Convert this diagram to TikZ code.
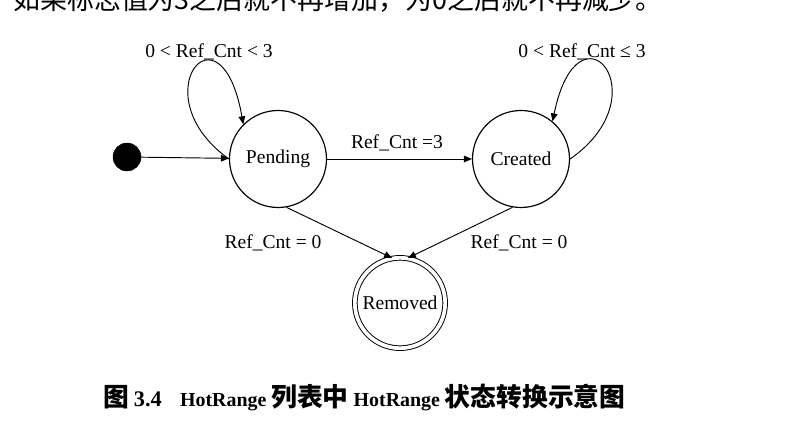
\documentclass[tikz,border=0pt]{standalone}
\usepackage{fontspec}
\setmainfont{Liberation Serif}
\newfontfamily\cjk{Noto Sans CJK SC}
\usetikzlibrary{arrows.meta, positioning}
\newcommand\labelfont{\fontsize{16.7}{20}\selectfont}
\newcommand\capcjk{\cjk\bfseries\fontsize{22}{24}\selectfont}

\begin{document}
\begin{tikzpicture}[x=0.3mm, y=-0.3mm,
    init/.style={circle, draw, fill=black, minimum size=8.4mm, inner sep=0pt},
    state/.style={circle, draw, line width=1pt, minimum size=29.1mm, inner sep=0pt, font=\labelfont},
    final/.style={state, double, double distance=1.1mm, line width=0.8pt, minimum size=27.1mm},
    trans/.style={-{Triangle[length=2.4mm, width=2mm]}, line width=0.8pt},
    lbl/.style={inner sep=0pt, font=\labelfont}
]
\useasboundingbox (0,0) rectangle (803,445);

% cut-off line of the page text above the figure
\begin{scope}
\clip (0,0) rectangle (803,445);
\node[anchor=base west, inner sep=0pt, font=\cjk\fontsize{23}{23}\selectfont] (topline) at (13,10) {如果标志值为3之后就不再增加，为0之后就不再减少。};
\end{scope}

\node[init] (start) at (127,157) {};
\node[state] (pend) at (278,159) {Pending};
\node[state] (crea) at (521,159) {Created};
\node[final] (rem) at (400,303) {Removed};

\node[lbl] (lpend) at (209,52) {0 < Ref\_Cnt < 3};
\node[lbl] (lcrea) at (582,52) {0 < Ref\_Cnt ≤ 3};
\node[lbl] (lmid) at (397,143) {Ref\_Cnt =3};
\node[lbl] (lrem1) at (273,243) {Ref\_Cnt = 0};
\node[lbl] (lrem2) at (519,243) {Ref\_Cnt = 0};

\draw[trans] (start) -- (pend);
\draw[trans] (pend.west) .. controls +(-89.5,-64) and +(-22.6,-128) .. (pend.135);
\draw[trans] (pend) -- (crea);
\draw[trans] (crea.east) .. controls +(92,-64) and +(25.8,-126) .. (crea.50);
\draw[trans] (pend.280) -- (rem.100);
\draw[trans] (crea.260) -- (rem.80);

\node[anchor=west, inner sep=0pt, font=\bfseries\fontsize{17}{20}\selectfont] (caption) at (103,397)
  {{\capcjk 图} {\fontsize{19}{20}\selectfont 3.4}\hspace{5.5mm}HotRange {\capcjk 列表中} HotRange {\capcjk 状态转换示意图}};
\end{tikzpicture}
\end{document}
